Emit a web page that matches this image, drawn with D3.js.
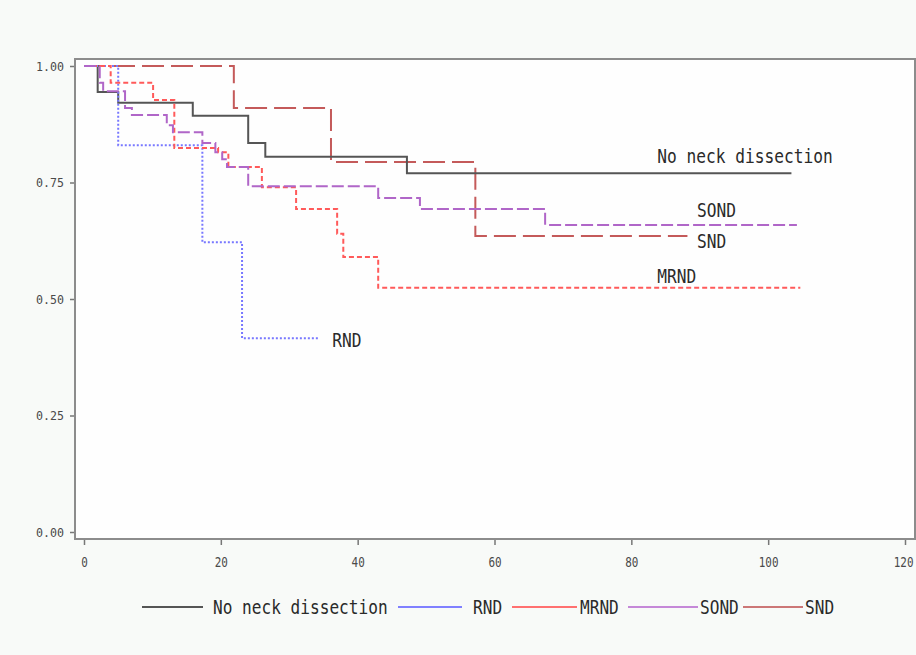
<!DOCTYPE html>
<html>
<head>
<meta charset="utf-8">
<script src="https://cdn.jsdelivr.net/npm/d3@7/dist/d3.min.js"></script>
<style>
  html, body { margin: 0; padding: 0; background: #f8faf8; }
  svg { display: block; }
</style>
</head>
<body>
<svg id="km" width="916" height="655"></svg>
<script>
// survival curves (months, survival)
const seriesNames = ['No neck dissection', 'RND', 'MRND', 'SOND', 'SND'];

const noneT = [0, 2.0, 5.0, 15.9, 24.0, 26.5, 47.2, 103.4];
const noneS = [1, 0.944, 0.921, 0.893, 0.835, 0.805, 0.770, 0.770];

const rndT = [0, 5.0, 17.3, 23.1, 34.2];
const rndS = [1, 0.830, 0.622, 0.416, 0.416];

const mrndT = [0, 3.9, 10.1, 13.2, 19.6, 21.1, 26.0, 31.0, 37.0, 37.9, 43.0, 104.7];
const mrndS = [1, 0.964, 0.927, 0.824, 0.815, 0.783, 0.740, 0.693, 0.640, 0.590, 0.524, 0.524];

const sondT = [0, 2.3, 2.8, 6.0, 7.0, 12.1, 13.0, 17.3, 19.2, 20.2, 20.9, 24.0, 43.0, 49.1, 67.4, 104.2];
const sondS = [1, 0.964, 0.946, 0.910, 0.895, 0.873, 0.858, 0.835, 0.815, 0.800, 0.783, 0.742, 0.717, 0.693, 0.659, 0.659];

const sndT = [0, 21.9, 36.1, 57.2, 88.2];
const sndS = [1, 0.910, 0.794, 0.635, 0.635];

// where each curve label sits, in data units [month, survival]
const labelAt = [[83.8, 0.792], [36.3, 0.397], [83.8, 0.534], [89.6, 0.676], [89.6, 0.609]];

const xTicks = [0, 20, 40, 60, 80, 100, 120];
const yTicks = [0, 0.25, 0.5, 0.75, 1];

const curves = [
  { name: seriesNames[0], t: noneT, s: noneS, color: '#555555', dash: null, legend: '#555555' },
  { name: seriesNames[1], t: rndT, s: rndS, color: '#7878ff', dash: '2,2', legend: '#8080ff' },
  { name: seriesNames[2], t: mrndT, s: mrndS, color: '#ff5a5a', dash: '5,3', legend: '#ff7070' },
  { name: seriesNames[3], t: sondT, s: sondS, color: '#b066c8', dash: '12,4', legend: '#c588d8' },
  { name: seriesNames[4], t: sndT, s: sndS, color: '#c45a5a', dash: '22,7', legend: '#cc7777' }
];

const svg = d3.select('#km');
const frame = { left: 75, right: 915, top: 59, bottom: 539 };

const x = d3.scaleLinear().domain([0, 120]).range([84, 905]);
const y = d3.scaleLinear().domain([0, 1]).range([532, 66]);

const mono = '"DejaVu Sans Mono", "Liberation Mono", monospace';

// squeeze text to the narrow pixel font look
function condense(sel, cw) {
  sel.each(function () {
    const n = this.textContent.length;
    d3.select(this).attr('textLength', n * cw).attr('lengthAdjust', 'spacingAndGlyphs');
  });
}

// plot area
svg.append('rect')
  .attr('x', frame.left).attr('y', frame.top)
  .attr('width', frame.right - frame.left).attr('height', frame.bottom - frame.top)
  .attr('fill', '#fefefe')
  .attr('stroke', '#8c8c8c')
  .attr('stroke-width', 2);

// axes
const xAxis = svg.append('g')
  .attr('transform', `translate(0,${frame.bottom + 1})`)
  .call(d3.axisBottom(x).tickValues(xTicks).tickSize(5).tickPadding(12).tickFormat(d3.format('d')));
xAxis.select('.domain').remove();
xAxis.selectAll('line').attr('stroke', '#777').attr('stroke-width', 1.5);
xAxis.selectAll('text')
  .attr('font-family', mono).attr('font-size', 14).attr('fill', '#4a4a4a')
  .call(condense, 6.6);
// last label sits against the window edge
xAxis.selectAll('text').filter(d => d === 120)
  .attr('text-anchor', 'end').attr('x', 8);

const yAxis = svg.append('g')
  .attr('transform', `translate(${frame.left - 1},0)`)
  .call(d3.axisLeft(y).tickValues(yTicks).tickSize(4).tickPadding(6).tickFormat(d3.format('.2f')));
yAxis.select('.domain').remove();
yAxis.selectAll('line').attr('stroke', '#777').attr('stroke-width', 1.5);
yAxis.selectAll('text')
  .attr('font-family', mono).attr('font-size', 13).attr('fill', '#4a4a4a')
  .call(condense, 7);

// curves
const line = d3.line()
  .x(d => x(d[0]))
  .y(d => y(d[1]))
  .curve(d3.curveStepAfter);

const drawOrder = [4, 0, 1, 2, 3];
drawOrder.forEach(i => {
  const c = curves[i];
  svg.append('path')
    .datum(c.t.map((t, k) => [t, c.s[k]]))
    .attr('fill', 'none')
    .attr('stroke', c.color)
    .attr('stroke-width', 2)
    .attr('stroke-dasharray', c.dash)
    .attr('d', line);
});

// labels at curve ends
curves.forEach((c, i) => {
  svg.append('text')
    .attr('x', x(labelAt[i][0]))
    .attr('y', y(labelAt[i][1]))
    .attr('font-family', mono).attr('font-size', 20).attr('fill', '#2a2a2a')
    .text(c.name)
    .call(condense, 9.75);
});

// legend
const legendY = 607;
const legendPos = [[142, 203, 213], [398, 462, 473], [512, 577, 580], [628, 698, 700], [743, 803, 805]];
curves.forEach((c, i) => {
  const [x0, x1, tx] = legendPos[i];
  svg.append('line')
    .attr('x1', x0).attr('x2', x1)
    .attr('y1', legendY).attr('y2', legendY)
    .attr('stroke', c.legend).attr('stroke-width', 2);
  svg.append('text')
    .attr('x', tx).attr('y', legendY + 7)
    .attr('font-family', mono).attr('font-size', 20).attr('fill', '#2a2a2a')
    .text(c.name)
    .call(condense, 9.7);
});
</script>
</body>
</html>
